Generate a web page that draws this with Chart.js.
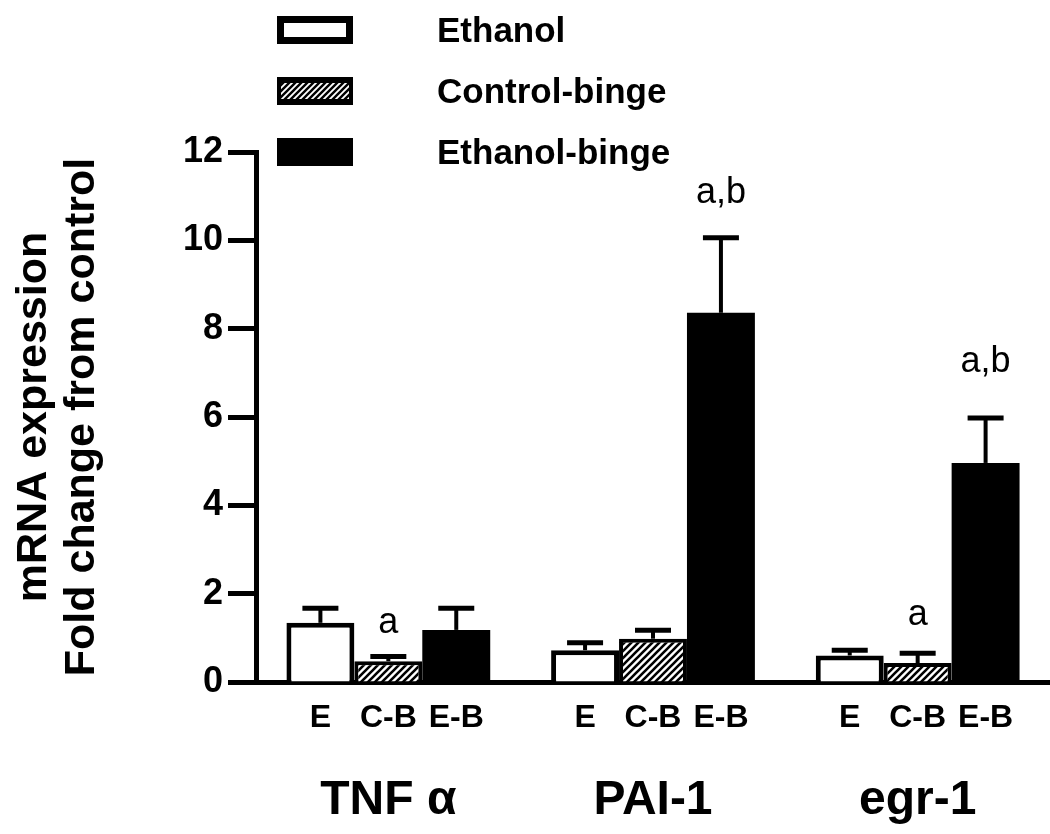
<!DOCTYPE html>
<html><head><meta charset="utf-8">
<script src="https://cdn.jsdelivr.net/npm/chart.js@4.4.0/dist/chart.umd.min.js"></script>
<style>html,body{margin:0;padding:0;background:#fff;}#wrap{width:1050px;height:834px;}</style>
</head><body><div id="wrap"><canvas id="c" width="1050" height="834"></canvas></div>
<script>
const groups = ['TNF α', 'PAI-1', 'egr-1'];
const seriesNames = ['Ethanol', 'Control-binge', 'Ethanol-binge'];
const subLabels = ['E', 'C-B', 'E-B'];
const ethanol = [1.34, 0.72, 0.60];
const controlBinge = [0.47, 0.98, 0.43];
const ethanolBinge = [1.18, 8.36, 4.96];
const ethanolErr = [0.33, 0.17, 0.12];
const controlBingeErr = [0.11, 0.19, 0.22];
const ethanolBingeErr = [0.49, 1.70, 1.02];
const controlBingeSig = ['a', '', 'a'];
const ethanolBingeSig = ['', 'a,b', 'a,b'];
const controlBingeSigAt = [1.10, null, 1.29];
const ethanolBingeSigAt = [null, 10.85, 7.02];
const yMin = 0, yMax = 12, yStep = 2;

const FONT = "'Liberation Sans', Arial, Helvetica, sans-serif";
Chart.defaults.font.family = FONT;
Chart.defaults.color = '#000';

function hatch(size, lw) {
  const c = document.createElement('canvas');
  c.width = size; c.height = size;
  const g = c.getContext('2d');
  g.fillStyle = '#fff'; g.fillRect(0, 0, size, size);
  g.strokeStyle = '#000'; g.lineWidth = lw; g.lineCap = 'square';
  g.beginPath();
  g.moveTo(0, size); g.lineTo(size, 0);
  g.moveTo(-size / 2, size / 2); g.lineTo(size / 2, -size / 2);
  g.moveTo(size / 2, size * 1.5); g.lineTo(size * 1.5, size / 2);
  g.stroke();
  return g.createPattern(c, 'repeat');
}
const ctx = document.getElementById('c').getContext('2d');
const hatchFill = hatch(7, 2.6);

const errs = [ethanolErr, controlBingeErr, ethanolBingeErr];
const sigs = [[], controlBingeSig, ethanolBingeSig];
const sigAt = [[], controlBingeSigAt, ethanolBingeSigAt];

const errorBars = {
  id: 'errorBars',
  afterDatasetsDraw(chart) {
    const c = chart.ctx, y = chart.scales.y;
    c.save();
    c.strokeStyle = '#000';
    chart.data.datasets.forEach((ds, d) => {
      chart.getDatasetMeta(d).data.forEach((el, i) => {
        const top = y.getPixelForValue(ds.data[i] + errs[d][i]);
        c.lineWidth = 4;
        c.beginPath(); c.moveTo(el.x, el.y); c.lineTo(el.x, top); c.stroke();
        c.lineWidth = 5;
        c.beginPath(); c.moveTo(el.x - 18, top); c.lineTo(el.x + 18, top); c.stroke();
      });
    });
    c.restore();
  }
};

const textMarks = {
  id: 'textMarks',
  afterDraw(chart) {
    const c = chart.ctx, y = chart.scales.y, x = chart.scales.x;
    c.save();
    c.fillStyle = '#000';
    chart.data.datasets.forEach((ds, d) => {
      chart.getDatasetMeta(d).data.forEach((el, i) => {
        c.font = "bold 32px " + FONT;
        c.textAlign = 'center'; c.textBaseline = 'middle';
        c.fillText(subLabels[d], el.x, x.top + 36);
        const s = sigs[d][i];
        if (s) {
          c.font = "36px " + FONT;
          c.textBaseline = 'alphabetic';
          c.fillText(s, el.x, y.getPixelForValue(sigAt[d][i]));
        }
      });
    });
    // legend
    const boxX = 277, boxW = 76, boxH = 28, textX = 437;
    const rows = [30, 91, 152];
    chart.data.datasets.forEach((ds, d) => {
      const cy = rows[d];
      if (d === 0) {
        c.fillStyle = '#000'; c.fillRect(boxX, cy - boxH / 2, boxW, boxH);
        c.fillStyle = '#fff'; c.fillRect(boxX + 7, cy - boxH / 2 + 7, boxW - 14, boxH - 14);
      } else if (d === 1) {
        c.fillStyle = '#000'; c.fillRect(boxX, cy - boxH / 2, boxW, boxH);
        c.fillStyle = hatch(6, 2.4); c.fillRect(boxX + 4, cy - boxH / 2 + 6, boxW - 8, boxH - 12);
      } else {
        c.fillStyle = '#000'; c.fillRect(boxX, cy - boxH / 2, boxW, boxH);
      }
      c.fillStyle = '#000';
      c.font = "bold 35px " + FONT;
      c.textAlign = 'left'; c.textBaseline = 'middle';
      c.fillText(ds.label, textX, cy + 2);
    });
    c.restore();
  }
};

new Chart(ctx, {
  type: 'bar',
  data: {
    labels: groups,
    datasets: [
      { label: seriesNames[0], data: ethanol, backgroundColor: '#fff', borderColor: '#000', borderWidth: 5 },
      { label: seriesNames[1], data: controlBinge, backgroundColor: hatchFill, borderColor: '#000', borderWidth: 4 },
      { label: seriesNames[2], data: ethanolBinge, backgroundColor: '#000', borderColor: '#000', borderWidth: 0 }
    ]
  },
  options: {
    responsive: false,
    animation: false,
    layout: { padding: { top: 152, right: 0, bottom: 0, left: 0 } },
    datasets: { bar: { categoryPercentage: 0.77, barPercentage: 1.0 } },
    plugins: { legend: { display: false }, tooltip: { enabled: false } },
    scales: {
      x: {
        type: 'category',
        offset: true,
        grid: { display: false, drawTicks: false },
        border: { display: true, color: '#000', width: 5 },
        ticks: { font: { size: 48, weight: 'bold' }, color: '#000', padding: 90, maxRotation: 0 },
        afterFit(s) { s.height = 152; s.paddingLeft = 0; s.paddingRight = 0; }
      },
      y: {
        min: yMin, max: yMax,
        ticks: { stepSize: yStep, font: { size: 36, weight: 'bold' }, color: '#000', padding: 5 },
        grid: { display: true, drawOnChartArea: false, drawTicks: true, tickLength: 28, tickWidth: 5, tickColor: '#000' },
        border: { display: true, color: '#000', width: 5 },
        title: {
          display: true,
          text: ['mRNA expression', 'Fold change from control'],
          font: { size: 43, weight: 'bold', lineHeight: 1.12 },
          color: '#000',
          padding: { top: 10, bottom: 0 }
        },
        afterFit(s) { s.width = 256; }
      }
    }
  },
  plugins: [errorBars, textMarks]
});
</script></body></html>
